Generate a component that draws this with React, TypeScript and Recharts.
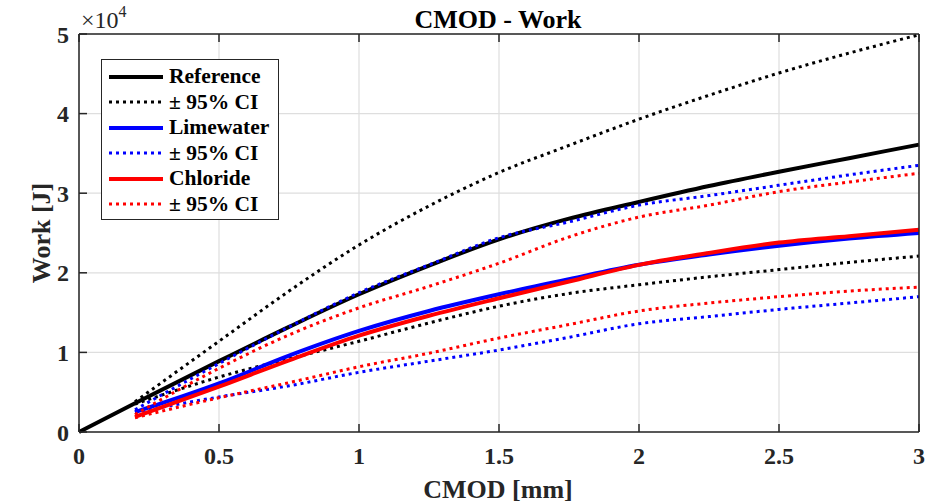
import { LineChart, Line, XAxis, YAxis, CartesianGrid } from 'recharts';

// CMOD [mm] sample points (shared by every curve)
const cmod = [0, 0.2, 0.5, 0.75, 1, 1.25, 1.5, 1.75, 2, 2.25, 2.5, 2.75, 3];

// Work [J]
const reference = [0, 3600, 8900, 13200, 17300, 20900, 24200, 26800, 28900, 30900, 32700, 34400, 36100];
const referenceHi = [null, 3800, 11400, 17700, 23500, 28400, 32600, 36000, 39300, 42300, 45100, 47600, 49900];
const referenceLo = [null, 3500, 6900, 9200, 11400, 13700, 15800, 17400, 18500, 19500, 20400, 21300, 22100];

const limewater = [null, 2500, 6100, 9600, 12700, 15200, 17300, 19200, 21000, 22300, 23400, 24300, 25000];
const limewaterHi = [null, 2800, 8600, 13200, 17500, 21000, 24400, 26400, 28500, 29700, 31000, 32300, 33500];
const limewaterLo = [null, 2500, 4400, 5800, 7500, 8900, 10300, 11900, 13600, 14500, 15400, 16200, 17000];

const chloride = [null, 1900, 5700, 9000, 12100, 14600, 16800, 18900, 21000, 22500, 23800, 24600, 25400];
const chlorideHi = [null, 2200, 8000, 12200, 15600, 18300, 21200, 24500, 27000, 28500, 30200, 31400, 32500];
const chlorideLo = [null, 1800, 4300, 6200, 8200, 9900, 11800, 13500, 15200, 16200, 17000, 17700, 18200];

const xTicks = [0, 0.5, 1, 1.5, 2, 2.5, 3];
const yTicks = [0, 10000, 20000, 30000, 40000, 50000];

const data = cmod.map((x, i) => ({
  x,
  reference: reference[i],
  referenceHi: referenceHi[i],
  referenceLo: referenceLo[i],
  limewater: limewater[i],
  limewaterHi: limewaterHi[i],
  limewaterLo: limewaterLo[i],
  chloride: chloride[i],
  chlorideHi: chlorideHi[i],
  chlorideLo: chlorideLo[i],
}));

const series = [
  { key: 'reference', name: 'Reference', color: '#000000', dotted: false },
  { key: 'referenceHi', name: '\u00b1 95% CI', color: '#000000', dotted: true },
  { key: 'referenceLo', name: '', color: '#000000', dotted: true },
  { key: 'limewater', name: 'Limewater', color: '#0000ff', dotted: false },
  { key: 'limewaterHi', name: '\u00b1 95% CI', color: '#0000ff', dotted: true },
  { key: 'limewaterLo', name: '', color: '#0000ff', dotted: true },
  { key: 'chloride', name: 'Chloride', color: '#ff0000', dotted: false },
  { key: 'chlorideHi', name: '\u00b1 95% CI', color: '#ff0000', dotted: true },
  { key: 'chlorideLo', name: '', color: '#ff0000', dotted: true },
];

const font = "'Liberation Serif', 'Times New Roman', serif";
const axisColor = '#262626';
const tickStyle = { fontSize: 24, fontWeight: 'bold', fill: axisColor, fontFamily: font };

// legend drawn as an overlay so it doesn't eat into the plot area
const LegendBox = () => (
  <div
    style={{
      position: 'absolute',
      left: 101,
      top: 59,
      width: 178,
      height: 161,
      border: `1.5px solid ${axisColor}`,
      background: '#fff',
      fontFamily: font,
      fontWeight: 'bold',
      fontSize: 21.5,
      color: '#000',
      paddingTop: 4,
      boxSizing: 'border-box',
    }}
  >
    {series
      .filter((s) => s.name)
      .map((s, i) => (
        <div key={i} style={{ display: 'flex', alignItems: 'center', height: 25.5 }}>
          <svg width={67} height={10} style={{ flex: 'none' }}>
            <line
              x1={7}
              x2={61}
              y1={5}
              y2={5}
              stroke={s.color}
              strokeWidth={s.dotted ? 3 : 4}
              strokeDasharray={s.dotted ? '3 4' : undefined}
            />
          </svg>
          <span style={{ whiteSpace: 'nowrap', lineHeight: 1 }}>{s.name}</span>
        </div>
      ))}
  </div>
);

const App = () => {
  return (
    <div style={{ position: 'absolute', left: 0, top: 0, width: 943, height: 504, background: '#fff' }}>
      <LineChart width={943} height={504} data={data} margin={{ top: 4, right: 4, bottom: 0, left: 0 }}>
        <CartesianGrid stroke="#dedede" strokeWidth={1.2} xAxisId="bottom" yAxisId="left" />
        <XAxis
          xAxisId="bottom"
          dataKey="x"
          type="number"
          domain={[0, 3]}
          ticks={xTicks}
          height={72}
          stroke={axisColor}
          strokeWidth={1.5}
          tickSize={-8}
          tickMargin={23}
          tick={tickStyle}
          tickFormatter={(v) => String(v)}
        />
        <XAxis
          xAxisId="top"
          orientation="top"
          dataKey="x"
          type="number"
          domain={[0, 3]}
          ticks={xTicks}
          height={30}
          stroke={axisColor}
          strokeWidth={1.5}
          tickSize={-8}
          tickFormatter={() => ''}
        />
        <YAxis
          yAxisId="left"
          type="number"
          domain={[0, 50000]}
          ticks={yTicks}
          width={79}
          stroke={axisColor}
          strokeWidth={1.5}
          tickSize={-8}
          tickMargin={18}
          tick={tickStyle}
          tickFormatter={(v) => String(v / 10000)}
        />
        <YAxis
          yAxisId="right"
          orientation="right"
          type="number"
          domain={[0, 50000]}
          ticks={yTicks}
          width={20}
          stroke={axisColor}
          strokeWidth={1.5}
          tickSize={-8}
          tickFormatter={() => ''}
        />
        {series.map((s) => (
          <Line
            key={s.key}
            xAxisId="bottom"
            yAxisId="left"
            type="monotone"
            dataKey={s.key}
            name={s.name}
            stroke={s.color}
            strokeWidth={s.dotted ? 3 : 4}
            strokeDasharray={s.dotted ? '3 4' : undefined}
            dot={false}
            activeDot={false}
            isAnimationActive={false}
          />
        ))}
      </LineChart>
      <LegendBox />
      <svg
        width={943}
        height={504}
        style={{ position: 'absolute', left: 0, top: 0, pointerEvents: 'none' }}
      >
        <text x={498} y={28} textAnchor="middle" fontFamily={font} fontWeight="bold" fontSize={26} fill="#000">
          CMOD - Work
        </text>
        <text x={498} y={498} textAnchor="middle" fontFamily={font} fontWeight="bold" fontSize={26} fill={axisColor}>
          CMOD [mm]
        </text>
        <text
          x={0}
          y={0}
          transform="translate(50 233) rotate(-90)"
          textAnchor="middle"
          fontFamily={font}
          fontWeight="bold"
          fontSize={26}
          fill={axisColor}
        >
          Work [J]
        </text>
        <text x={81} y={28} fontFamily={font} fontSize={24} fill={axisColor}>
          {'\u00d7'}10
          <tspan dy={-11} fontSize={16}>4</tspan>
        </text>
      </svg>
    </div>
  );
};

export default App;
